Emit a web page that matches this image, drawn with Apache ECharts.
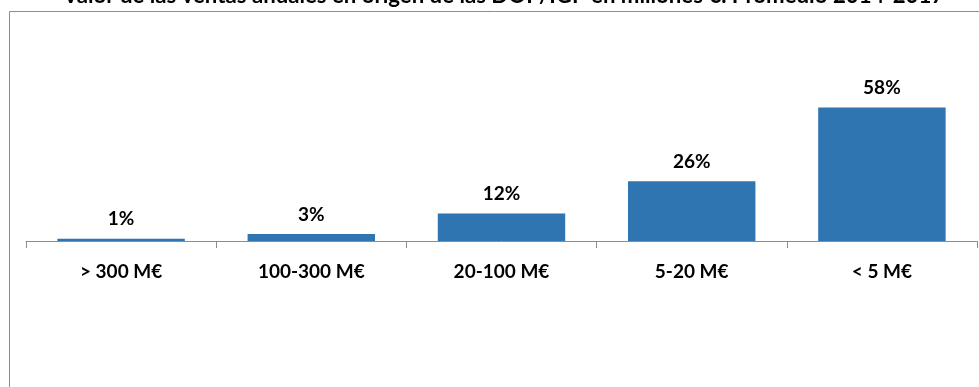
<!DOCTYPE html>
<html>
<head>
<meta charset="utf-8">
<script src="https://cdn.jsdelivr.net/npm/echarts@6/dist/echarts.min.js"></script>
<style>
  html, body { margin: 0; padding: 0; background: #fff; }
  #chart { width: 979px; height: 387px; }
</style>
</head>
<body>
<div id="chart"></div>
<script>
// Sales value brackets (millions of euros) and share of PDO/PGI in each
const categories = ['> 300 M€', '100-300 M€', '20-100 M€', '5-20 M€', '< 5 M€'];
const shares = [1, 3, 12, 26, 58];
const titleText = 'Valor de las ventas anuales en origen de las DOP/IGP en millones €. Promedio 2014-2017';

const FONT = 'Lato, "Open Sans", sans-serif';
const chart = echarts.init(document.getElementById('chart'), null, { renderer: 'canvas' });

chart.setOption({
  animation: false,
  backgroundColor: '#ffffff',
  title: {
    text: titleText,
    left: 63,
    top: -15,
    padding: 0,
    textStyle: { fontFamily: FONT, fontWeight: 'bold', fontSize: 22.2, color: '#000' }
  },
  graphic: [{
    type: 'rect',
    shape: { x: 9.5, y: 11.5, width: 2000, height: 2000 },
    style: { fill: 'none', stroke: '#8c8c8c', lineWidth: 1 },
    silent: true,
    z: -1
  }],
  grid: { left: 26, right: 2, top: 11, bottom: 146, containLabel: false },
  xAxis: {
    type: 'category',
    data: categories,
    boundaryGap: true,
    axisLine: { lineStyle: { color: '#8c8c8c', width: 1 } },
    axisTick: { show: true, length: 7, alignWithLabel: false, lineStyle: { color: '#8c8c8c' } },
    axisLabel: {
      margin: 21,
      fontFamily: FONT, fontWeight: 'bold', fontSize: 19, color: '#000'
    }
  },
  yAxis: {
    type: 'value',
    min: 0,
    max: 100,
    show: false
  },
  series: [{
    type: 'bar',
    data: shares,
    barWidth: '67%',
    itemStyle: { color: '#2f75b2' },
    label: {
      show: true,
      position: 'top',
      distance: 10,
      formatter: '{c}%',
      fontFamily: FONT, fontWeight: 'bold', fontSize: 19, color: '#000'
    }
  }]
});
</script>
</body>
</html>
